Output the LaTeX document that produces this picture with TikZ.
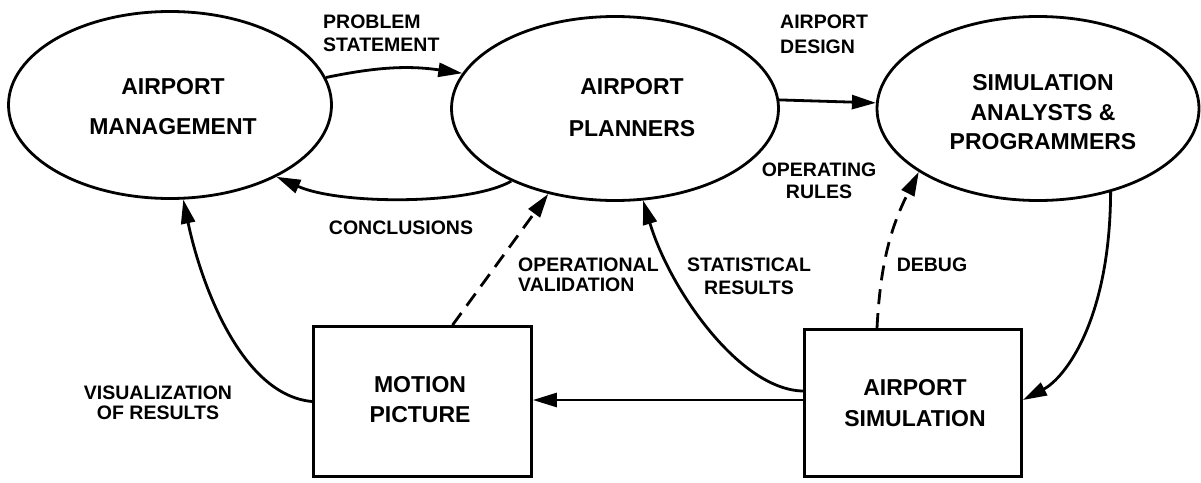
\documentclass[tikz,border=0pt]{standalone}
\usepackage{fontspec}
\setmainfont{Liberation Sans}
\usetikzlibrary{shapes.geometric,arrows.meta,calc}
\begin{document}
\begin{tikzpicture}[x=1pt,y=-1pt,
  ell/.style={ellipse, draw, line width=2.8pt, inner sep=0pt},
  boxn/.style={rectangle, draw, line width=2.8pt, inner sep=0pt},
  ntxt/.style={font=\bfseries\fontsize{23}{30}\selectfont, align=center, inner sep=0pt},
  ltxt/.style={font=\bfseries\fontsize{19.5}{22}\selectfont, align=center, inner sep=0pt},
  arr/.style={line width=2.8pt, -{Triangle[length=24pt,width=14pt]}},
  darr/.style={arr, dash pattern=on 15pt off 9pt},
]
\useasboundingbox (0,0) rectangle (1201,482);

% main nodes
\node[ell, minimum width=323, minimum height=187] (mgmt) at (170,105) {};
\node[ell, minimum width=327, minimum height=184] (plan) at (615,108.5) {};
\node[ell, minimum width=322, minimum height=184] (sim) at (1038,108.5) {};
\node[boxn, minimum width=218, minimum height=150] (motion) at (422.5,401.5) {};
\node[boxn, minimum width=217, minimum height=147] (simbox) at (913,403) {};

% node texts
\node[ntxt, font=\bfseries\fontsize{23}{40}\selectfont] (mgmtT) at (173,107) {AIRPORT\\MANAGEMENT};
\node[ntxt, font=\bfseries\fontsize{23}{42}\selectfont] (planT) at (632,108) {AIRPORT\\PLANNERS};
\node[ntxt, font=\bfseries\fontsize{23}{29.5}\selectfont] (simT) at (1043,112.5) {SIMULATION\\ANALYSTS \&\\PROGRAMMERS};
\node[ntxt] (motionT) at (420,400) {MOTION\\PICTURE};
\node[ntxt, font=\bfseries\fontsize{23}{31}\selectfont] (simboxT) at (915,403) {AIRPORT\\SIMULATION};

% labels
\node[ltxt, align=left, anchor=west, font=\bfseries\fontsize{19.5}{23}\selectfont] (lps) at (323,33.5) {PROBLEM\\STATEMENT};
\node[ltxt, align=left, anchor=west, font=\bfseries\fontsize{19.5}{25}\selectfont] (lad) at (780,34.5) {AIRPORT\\DESIGN};
\node[ltxt] (lor) at (819,181) {OPERATING\\RULES};
\node[ltxt] (lcon) at (401,228) {CONCLUSIONS};
\node[ltxt, align=left, anchor=west, font=\bfseries\fontsize{19.5}{20}\selectfont] (lov) at (518,275) {OPERATIONAL\\VALIDATION};
\node[ltxt, font=\bfseries\fontsize{19.5}{23}\selectfont] (lsr) at (749,276.5) {STATISTICAL\\RESULTS};
\node[ltxt] (ldb) at (932,265) {DEBUG};
\node[ltxt, font=\bfseries\fontsize{19.5}{20}\selectfont] (lvis) at (158,403) {VISUALIZATION\\OF RESULTS};

% connectors
\draw[arr] (mgmt.10.8) to[bend left=10] (plan.167.5);
\draw[arr] (plan.215) .. controls (470,205) and (340,205) .. (mgmt.-34.8);
\draw[arr] (plan.3.3) -- (sim.178);
\draw[arr] (motion.west) .. controls (240,395) and (200,280) .. (mgmt.-82.8);
\draw[darr] ([xshift=30pt]motion.north) -- (plan.232.6);
\draw[arr] ([yshift=12pt]simbox.west) .. controls (740,390) and (670,290) .. (plan.-73);
\draw[arr] ([yshift=3pt]simbox.west) -- ([yshift=3pt]simbox.west -| motion.east);
\draw[darr] ([xshift=-36pt]simbox.north) to[bend left=12] (sim.208.1);
\draw[arr] (sim.-49.3) .. controls (1110,320) and (1065,378) .. ([yshift=3pt]simbox.east);
\end{tikzpicture}
\end{document}
